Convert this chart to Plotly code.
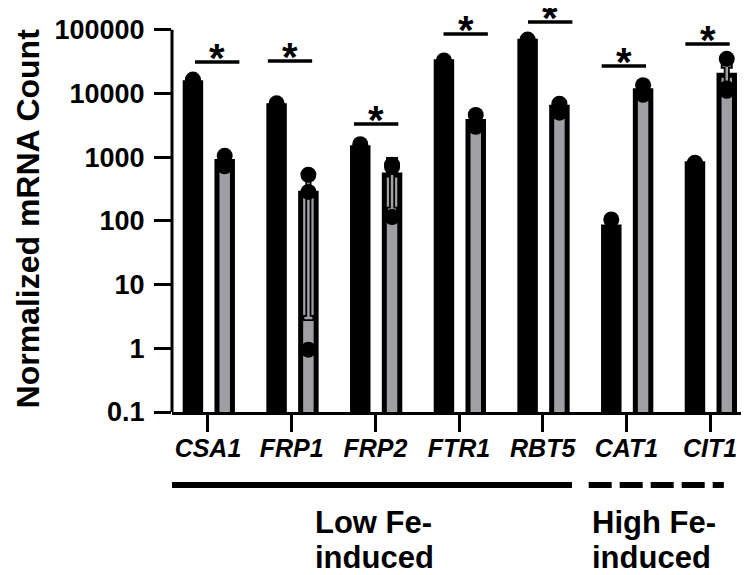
import numpy as np
import plotly.graph_objects as go

genes = ["CSA1", "FRP1", "FRP2", "FTR1", "RBT5", "CAT1", "CIT1"]

# replicate values (normalized mRNA counts)
black_reps = [
    [13000, 14500, 16500],
    [7000, 6500, 5800],
    [1600, 1250, 1350],
    [33000, 31000, 30000],
    [70000, 66000, 62000],
    [105, 65, 70],
    [820, 780, 760],
]
gray_reps = [
    [1050, 720, 800],
    [530, 285, 0.95],
    [760, 700, 115],
    [4600, 3300, 3000],
    [6900, 5000, 6400],
    [13500, 10000, 9500],
    [35000, 12000, 11000],
]
gray_err = [100, 269, 376, 500, 600, 1500, 8000]

# significance bar heights and horizontal offsets of their centres
sig_heights = [31300, 32400, 3320, 85900, 132000, 27000, 59800]
sig_offsets = [0.11, -0.02, 0.01, 0.08, 0.09, -0.03, -0.03]

ytick_vals = [0.1, 1, 10, 100, 1000, 10000, 100000]
ytick_text = ["0.1", "1", "10", "100", "1000", "10000", "100000"]

FONT = "Liberation Sans, Arial, sans-serif"
GRAY = "#A0A0A4"
idx = np.arange(len(genes))
xb = idx - 0.18
xg = idx + 0.20
black_mean = [float(np.mean(r)) for r in black_reps]
gray_mean = [float(np.mean(r)) for r in gray_reps]

fig = go.Figure()
fig.add_trace(go.Bar(x=xb, y=black_mean, width=0.185,
                     marker=dict(color="black", line=dict(color="black", width=5))))
fig.add_trace(go.Bar(x=xg, y=gray_mean, width=0.185,
                     marker=dict(color=GRAY, line=dict(color="black", width=5))))
# error bars (outlined style)
for col, th, w in [("black", 6, 6), (GRAY, 2.5, 4)]:
    fig.add_trace(go.Scatter(x=xg, y=gray_mean, mode="markers",
                             marker=dict(size=1, opacity=0),
                             error_y=dict(type="data", array=gray_err, arrayminus=gray_err,
                                          color=col, thickness=th, width=w)))
# replicate dots
dx, dy = [], []
for i in range(len(genes)):
    for v in black_reps[i]:
        dx.append(xb[i]); dy.append(v)
    for v in gray_reps[i]:
        dx.append(xg[i]); dy.append(v)
fig.add_trace(go.Scatter(x=dx, y=dy, mode="markers",
                         marker=dict(size=16, color="black")))
# significance lines
sx, sy = [], []
for i in range(len(genes)):
    c = idx[i] + sig_offsets[i]
    sx += [c - 0.265, c + 0.265, None]
    sy += [sig_heights[i], sig_heights[i], None]
fig.add_trace(go.Scatter(x=sx, y=sy, mode="lines", line=dict(color="black", width=3.5)))

annotations = []
for i in range(len(genes)):
    annotations.append(dict(x=idx[i] + sig_offsets[i], y=np.log10(sig_heights[i]),
                            xref="x", yref="y", text="*", showarrow=False,
                            yanchor="middle", yshift=4,
                            font=dict(family=FONT, size=40, color="black", weight="bold")))

BIG = dict(family=FONT, size=31, color="black", weight="bold")
annotations.append(dict(x=-0.285, y=0.491, xref="paper", yref="paper",
                        text="Normalized mRNA Count", textangle=-90, showarrow=False,
                        font=dict(family=FONT, size=32, color="black", weight="bold")))
for xx, lines in [(1.25, ["Low Fe-", "induced"]), (4.56, ["High Fe-", "induced"])]:
    for k, (t, yy) in enumerate(zip(lines, [-0.2785, -0.3696])):
        annotations.append(dict(x=xx, y=yy, xref="x", yref="paper", xanchor="left",
                                yanchor="middle", text=t, showarrow=False, font=BIG))

shapes = [
    dict(type="line", xref="paper", yref="y", x0=0, x1=0, y0=0.1, y1=100000,
         line=dict(color="black", width=3)),
    dict(type="line", xref="x", yref="paper", x0=-0.44, x1=4.35, y0=-0.185, y1=-0.185,
         line=dict(color="black", width=6)),
    dict(type="line", xref="x", yref="paper", x0=4.55, x1=6.165, y0=-0.185, y1=-0.185,
         line=dict(color="black", width=6, dash="23px,8px")),
]

fig.update_layout(
    width=741, height=567,
    margin=dict(l=164, r=3, t=9, b=163),
    paper_bgcolor="white", plot_bgcolor="white",
    barmode="overlay", showlegend=False,
    annotations=annotations, shapes=shapes,
    xaxis=dict(range=[-0.43, 6.43], tickvals=list(idx), ticktext=genes,
               showgrid=False, zeroline=False, showline=True, linecolor="black", linewidth=3,
               ticks="outside", ticklen=17, tickwidth=3, tickcolor="black",
               ticklabelstandoff=-5,
               tickfont=dict(family=FONT, size=25, color="black", weight="bold", style="italic")),
    yaxis=dict(type="log", range=[-1, 5.2], tickvals=ytick_vals, ticktext=ytick_text,
               showgrid=False, zeroline=False, showline=False,
               ticks="outside", ticklen=17, tickwidth=3, tickcolor="black",
               ticklabelstandoff=4,
               tickfont=dict(family=FONT, size=27, color="black", weight="bold")),
)
fig.write_html("out.html")
